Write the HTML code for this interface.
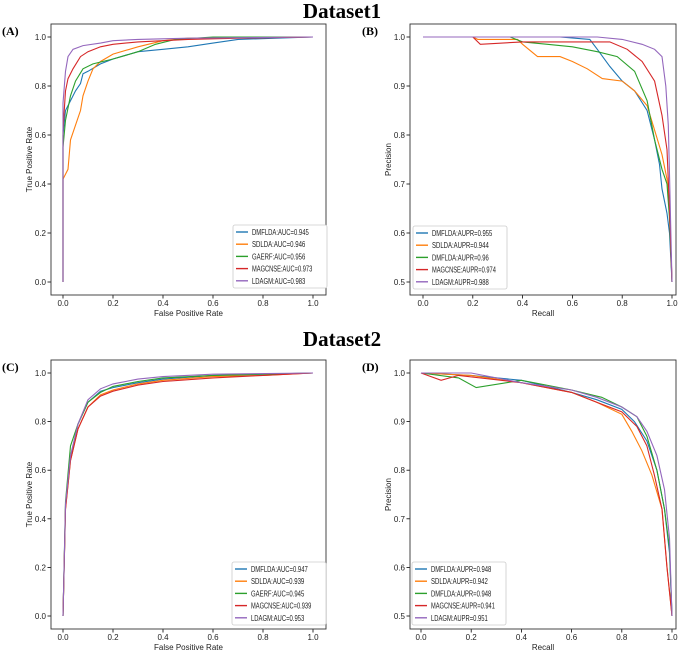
<!DOCTYPE html>
<html><head><meta charset="utf-8"><style>
body{margin:0;background:#fff;width:685px;height:653px;overflow:hidden}
svg{font-family:"Liberation Sans Narrow","Liberation Sans",sans-serif}
</style></head><body>
<svg id="c" width="685" height="653">
<text x="342" y="18" text-anchor="middle" font-family="Liberation Serif,serif" font-weight="bold" font-size="21">Dataset1</text>
<text x="342" y="346" text-anchor="middle" font-family="Liberation Serif,serif" font-weight="bold" font-size="21">Dataset2</text>
</svg>
<script>
const colors=["#1f77b4","#ff7f0e","#2ca02c","#d62728","#9467bd"];
const xTicks=[0,0.2,0.4,0.6,0.8,1.0];
const rocTicks=[0,0.2,0.4,0.6,0.8,1.0];
const prTicks=[0.5,0.6,0.7,0.8,0.9,1.0];
const legendA=["DMFLDA:AUC=0.945","SDLDA:AUC=0.946","GAERF:AUC=0.956","MAGCNSE:AUC=0.973","LDAGM:AUC=0.983"];
const legendB=["DMFLDA:AUPR=0.955","SDLDA:AUPR=0.944","DMFLDA:AUPR=0.96","MAGCNSE:AUPR=0.974","LDAGM:AUPR=0.988"];
const legendC=["DMFLDA:AUC=0.947","SDLDA:AUC=0.939","GAERF:AUC=0.945","MAGCNSE:AUC=0.939","LDAGM:AUC=0.953"];
const legendD=["DMFLDA:AUPR=0.948","SDLDA:AUPR=0.942","DMFLDA:AUPR=0.948","MAGCNSE:AUPR=0.941","LDAGM:AUPR=0.951"];
// curves: flat arrays [x,y,x,y,...]
const rocA=[
[0,0,0,0.6,0.01,0.7,0.03,0.74,0.05,0.78,0.07,0.81,0.08,0.85,0.1,0.86,0.15,0.89,0.2,0.91,0.3,0.94,0.4,0.95,0.5,0.96,0.6,0.975,0.7,0.99,0.85,0.995,1,1],
[0,0,0,0.42,0.02,0.46,0.03,0.58,0.05,0.64,0.07,0.7,0.08,0.76,0.1,0.82,0.12,0.87,0.15,0.9,0.2,0.93,0.3,0.96,0.4,0.985,0.5,0.995,1,1],
[0,0,0,0.55,0.01,0.66,0.03,0.76,0.05,0.82,0.08,0.87,0.12,0.89,0.2,0.91,0.3,0.94,0.37,0.97,0.45,0.99,0.6,1,1,1],
[0,0,0,0.62,0.01,0.78,0.02,0.83,0.04,0.87,0.07,0.92,0.1,0.94,0.15,0.96,0.2,0.97,0.3,0.98,0.4,0.985,0.5,0.99,0.7,0.995,1,1],
[0,0,0,0.73,0.01,0.86,0.02,0.92,0.04,0.95,0.08,0.965,0.15,0.975,0.2,0.985,0.3,0.99,0.5,0.995,1,1]];
const prB=[
[0,1,0.3,1,0.55,1,0.67,0.995,0.7,0.975,0.75,0.94,0.8,0.91,0.85,0.89,0.9,0.85,0.93,0.79,0.95,0.74,0.96,0.69,0.98,0.64,0.99,0.6,1,0.5],
[0,1,0.2,1,0.22,0.995,0.38,0.995,0.4,0.985,0.46,0.96,0.55,0.96,0.6,0.95,0.66,0.935,0.72,0.915,0.8,0.91,0.85,0.89,0.9,0.86,0.93,0.81,0.96,0.76,0.98,0.71,0.99,0.65,1,0.5],
[0,1,0.35,1,0.4,0.99,0.5,0.985,0.6,0.98,0.7,0.97,0.78,0.96,0.85,0.93,0.9,0.87,0.93,0.79,0.96,0.73,0.98,0.7,0.99,0.63,1,0.5],
[0,1,0.2,1,0.23,0.985,0.4,0.99,0.6,0.99,0.75,0.99,0.82,0.975,0.88,0.95,0.93,0.91,0.96,0.84,0.98,0.77,0.99,0.65,1,0.5],
[0,1,0.4,1,0.7,1,0.8,0.995,0.88,0.985,0.93,0.975,0.96,0.96,0.975,0.9,0.985,0.82,0.99,0.72,1,0.5]];
const rocC=[
[0,0,0.01,0.45,0.03,0.65,0.06,0.79,0.1,0.88,0.15,0.925,0.2,0.94,0.3,0.96,0.4,0.975,0.6,0.99,0.8,0.995,1,1],
[0,0,0.01,0.44,0.03,0.64,0.06,0.77,0.1,0.86,0.15,0.91,0.2,0.93,0.3,0.955,0.4,0.97,0.6,0.985,0.8,0.99,1,1],
[0,0,0.01,0.47,0.03,0.7,0.06,0.79,0.1,0.88,0.15,0.92,0.2,0.945,0.3,0.965,0.4,0.98,0.6,0.99,1,1],
[0,0,0.01,0.44,0.03,0.64,0.06,0.77,0.1,0.86,0.15,0.905,0.2,0.925,0.3,0.95,0.4,0.965,0.6,0.98,0.8,0.99,1,1],
[0,0,0.01,0.46,0.03,0.66,0.06,0.79,0.1,0.89,0.15,0.935,0.2,0.955,0.3,0.975,0.4,0.985,0.6,0.995,1,1]];
const prD=[
[0,1,0.2,0.995,0.4,0.985,0.6,0.96,0.7,0.945,0.8,0.925,0.85,0.9,0.9,0.86,0.94,0.8,0.97,0.72,0.99,0.63,1,0.5],
[0,1,0.2,0.995,0.4,0.98,0.6,0.96,0.7,0.94,0.8,0.915,0.84,0.88,0.88,0.84,0.92,0.79,0.96,0.72,0.98,0.6,1,0.5],
[0,1,0.15,0.99,0.22,0.97,0.4,0.985,0.6,0.965,0.72,0.95,0.8,0.93,0.86,0.91,0.9,0.87,0.94,0.8,0.97,0.72,0.99,0.64,1,0.5],
[0,1,0.08,0.985,0.15,0.995,0.4,0.98,0.6,0.96,0.7,0.94,0.8,0.92,0.86,0.89,0.9,0.85,0.93,0.79,0.96,0.72,0.98,0.6,1,0.5],
[0,1,0.2,1,0.4,0.98,0.6,0.965,0.7,0.95,0.8,0.93,0.86,0.91,0.9,0.88,0.94,0.83,0.97,0.76,0.99,0.66,1,0.5]];
const NS="http://www.w3.org/2000/svg";
const svg=document.getElementById('c');
function mk(t,a,p){const e=document.createElementNS(NS,t);for(const k in a)e.setAttribute(k,a[k]);(p||svg).appendChild(e);return e;}
function panel(id,label,labX,L,T,R,B,px0,px1,curves,yTicks,ymin,xlab,ylab,ylabX,leg,legX,legY){
 const g=mk('g',{});
 
 
 const py1=T+13,py0=B-13;
 const sx=v=>px0+v*(px1-px0);
 const sy=v=>py0-(v-ymin)/(1-ymin)*(py0-py1);
 const lab=mk('text',{x:labX,y:T+11,'font-family':'Liberation Serif,serif','font-weight':'bold','font-size':'12'},g);lab.textContent=label;
 
 xTicks.forEach(v=>{mk('line',{x1:sx(v),x2:sx(v),y1:B,y2:B+3.5,stroke:'#000','stroke-width':0.8},g);
  const t=mk('text',{x:sx(v),y:B+11,'text-anchor':'middle','font-size':'8',fill:'#222'},g);t.textContent=v.toFixed(1);
  });
 yTicks.forEach(v=>{mk('line',{x1:L-3.5,x2:L,y1:sy(v),y2:sy(v),stroke:'#000','stroke-width':0.8},g);
  const t=mk('text',{x:L-5,y:sy(v)+3,'text-anchor':'end','font-size':'8',fill:'#222'},g);t.textContent=v.toFixed(1);
  });
 const xl=mk('text',{x:(L+R)/2,y:B+21,'text-anchor':'middle','font-size':'8',fill:'#222'},g);xl.textContent=xlab;
 
 const yl=mk('text',{x:0,y:0,'text-anchor':'middle','font-size':'8',fill:'#222',transform:`translate(${ylabX},${(T+B)/2}) rotate(-90)`},g);yl.textContent=ylab;
 
 curves.forEach((c,i)=>{let d='';for(let k=0;k<c.length;k+=2)d+=(k?'L':'M')+sx(c[k]).toFixed(1)+','+sy(c[k+1]).toFixed(1);
  const p=mk('path',{d:d,fill:'none',stroke:colors[i],'stroke-width':1.1},g);
  });
 const fr=mk('rect',{x:L,y:T,width:R-L,height:B-T,fill:'none',stroke:'#333','stroke-width':0.9},g);
 
 const lg=mk('g',{},g);
 mk('rect',{x:legX,y:legY,width:94,height:63,fill:'#fff',stroke:'#ccc','stroke-width':0.8,rx:2},lg);
 leg.forEach((s,i)=>{const y=legY+7+i*12.2;mk('line',{x1:legX+3,x2:legX+15,y1:y,y2:y,stroke:colors[i],'stroke-width':1.4},lg);
  const t=mk('text',{x:legX+19,y:y+3,'font-size':'8',fill:'#222',textLength:(s.length*3.55).toFixed(1),lengthAdjust:'spacingAndGlyphs'},lg);t.textContent=s;
  });
}
panel('a','(A)',2,51,24,326,295,63,313,rocA,rocTicks,0,'False Positive Rate','True Positive Rate',32,legendA,233,225);
panel('b','(B)',362,410,24,676,295,423,672,prB,prTicks,0.5,'Recall','Precision',391,legendB,413,226);
panel('c','(C)',2,51,360,326,629,63,313,rocC,rocTicks,0,'False Positive Rate','True Positive Rate',32,legendC,232,562);
panel('d','(D)',362,410,360,676,629,421,672,prD,prTicks,0.5,'Recall','Precision',391,legendD,412,562);
</script>
</body></html>
